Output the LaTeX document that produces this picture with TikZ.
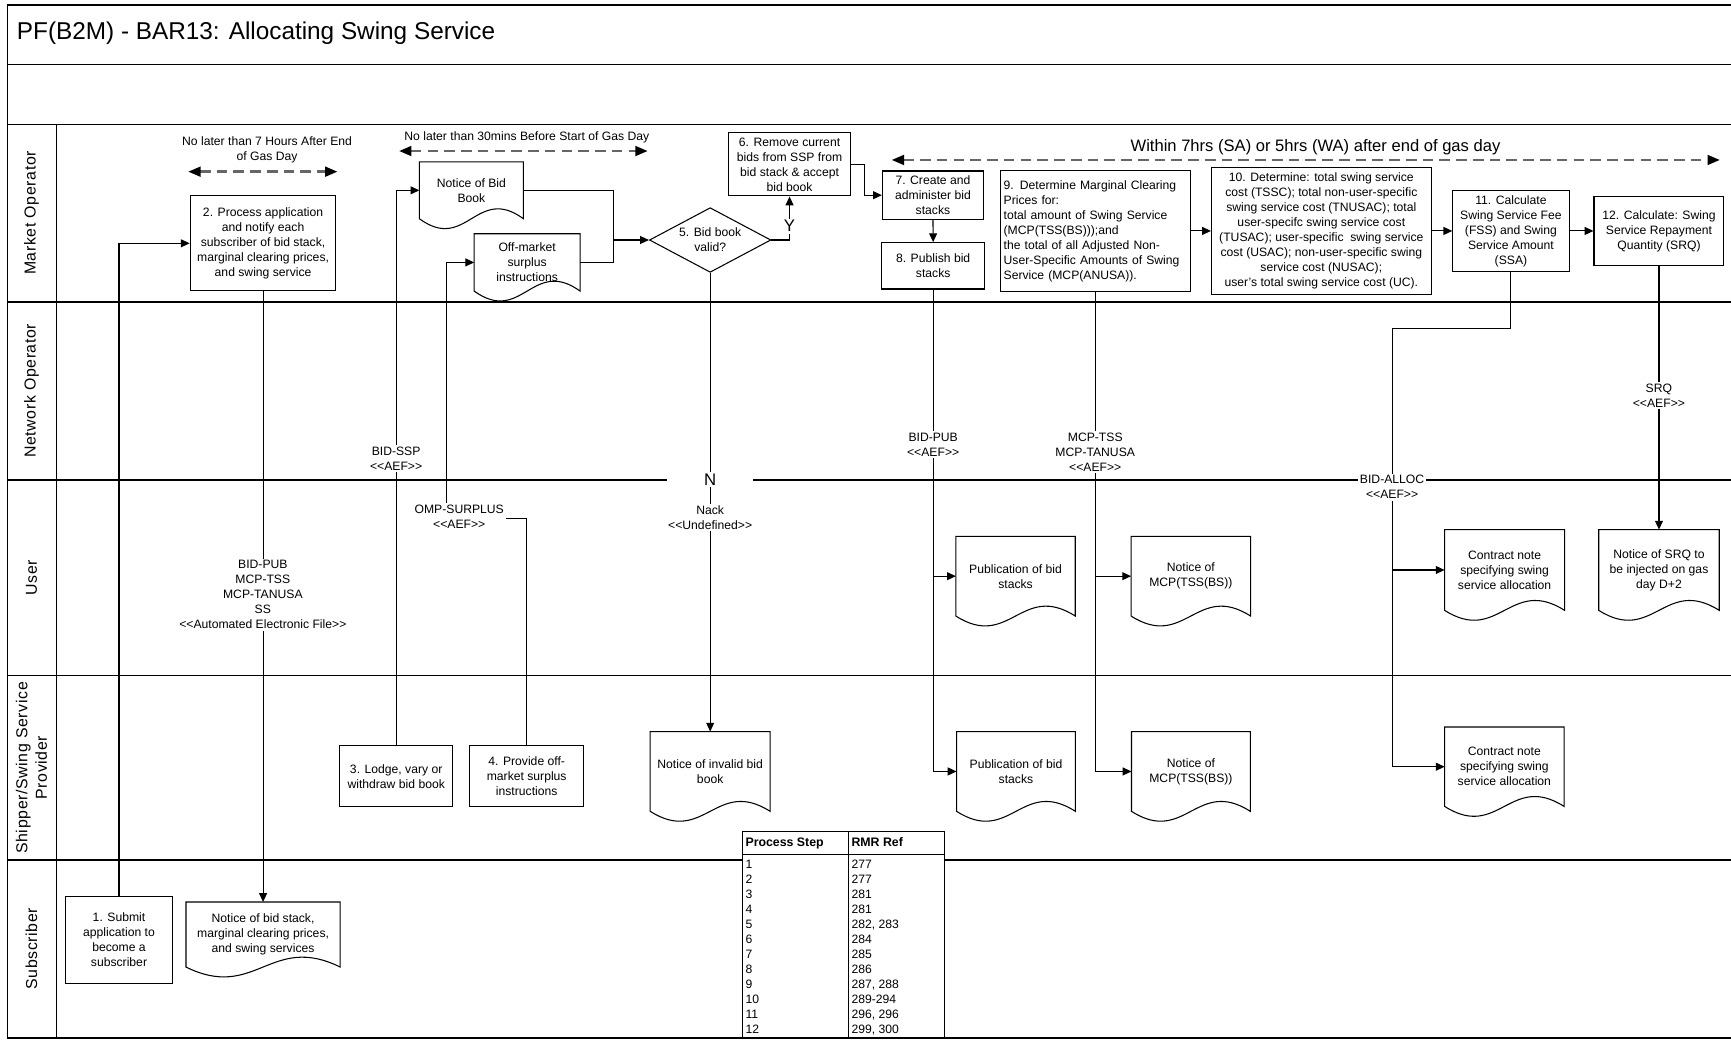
\documentclass[tikz,border=0pt]{standalone}
\usepackage{fontspec}
\setmainfont{Liberation Sans}
\newfontfamily\lanefont{Liberation Sans}[LetterSpace=4]
\usetikzlibrary{arrows.meta,shapes.geometric,calc}

% document shape: wavy bottom edge drawn round a named node
\newcommand{\docoutline}[1]{%
  \draw[docline] (#1.north west) -- (#1.south west)
    .. controls ($(#1.south west)!0.45!(#1.south east)+(0,31)$)
    and ($(#1.south west)!0.55!(#1.south east)+(0,-31)$) .. (#1.south east)
    -- (#1.north east) -- cycle;}

\begin{document}
\begin{tikzpicture}[x=0.022cm, y=-0.022cm,
        font=\fontsize{6.9}{8.5}\selectfont,
        sz/.style 2 args = {minimum width=#1*0.022cm,
            minimum height=#2*0.022cm
        },
        procbox/.style = {draw,
            line width=0.6pt,
            align=center,
            inner sep=1pt
        },
        docu/.style = {align=center,
            inner sep=1pt
        },
        docline/.style = {line width=0.6pt},
        decision/.style = {diamond,
            draw,
            line width=0.6pt,
            align=center,
            inner sep=0pt,
            aspect=1.9
        },
        flow/.style = {line width=0.6pt,
            -{Triangle[length=5pt,width=4.5pt]}
        },
        link/.style = {line width=0.6pt},
        timing/.style = {line width=1.4pt,
            draw=black!60,
            dash pattern=on 6pt off 3.5pt,
            {Triangle[length=7pt,width=5.5pt,color=black]}-{Triangle[length=7pt,width=5.5pt,color=black]}
        },
        msg/.style = {fill=white,
            align=center,
            inner sep=1pt
        },
        lanelbl/.style = {rotate=90,
            align=center,
            font=\lanefont\fontsize{9}{11}\selectfont
        },
        laneline/.style = {line width=0.9pt},
        cell/.style = {anchor=base west,
            inner sep=0pt
        }]

    \useasboundingbox (0,0) rectangle (1568,943);

    % Frame and lanes
    \foreach \ly in {58.3,112.6,273.3,434.8,612,779}
        \draw[laneline] (6.9,\ly) -- (1568,\ly);
    \draw[laneline] (1568,4.5) -- (6.9,4.5) -- (6.9,940) -- (1568,940);
    \draw[laneline] (51,112.6) -- (51,940);

    % Title
    \node[anchor=base west,
        font=\fontsize{13.8}{16}\selectfont] (title) at (9.7,35.6)
        {PF(B2M) - BAR13: Allocating Swing Service};

    % Lane names
    \foreach \lname/\ly [count=\i] in {Market Operator/193, Network Operator/354,
            User/523.4, {Shipper/Swing Service\\Provider}/695.5, Subscriber/859.5}
        \node[lanelbl] (lane\i) at (28.5,\ly) {\lname};

    % Time windows
    \node[align=center] (t7hTxt) at (241.9,135.7) {No later than 7 Hours After End\\of Gas Day};
    \coordinate (t7hL) at (170.5,155.5);
    \coordinate (t7hR) at (305.7,155.5);
    \draw[timing] (t7hL) -- (t7hR);

    \node (t30Txt) at (477.2,124.4) {No later than 30mins Before Start of Gas Day};
    \coordinate (t30L) at (361.5,136.8);
    \coordinate (t30R) at (586.7,136.8);
    \draw[timing] (t30L) -- (t30R);

    \node[font=\fontsize{9.4}{11}\selectfont] (withinTxt) at (1191.6,132.9)
        {Within 7hrs (SA) or 5hrs (WA) after end of gas day};
    \coordinate (withinL) at (807.7,144.9);
    \coordinate (withinR) at (1557.9,144.9);
    \draw[timing] (withinL) -- (withinR);

    % Process steps
    \node[procbox, sz={96.4}{78.5}] (submit) at (107.8,851.5)
        {1. Submit\\application to\\become a\\subscriber};
    \node[procbox, sz={132}{85.8}] (procApp) at (238.3,220.4)
        {2. Process application\\and notify each\\subscriber of bid stack,\\marginal clearing prices,\\and swing service};
    \node[procbox, sz={102.2}{55}] (lodge) at (358.9,703.2)
        {3. Lodge, vary or\\withdraw bid book};
    \node[procbox, sz={103}{55}] (provOff) at (477.1,703.2)
        {4. Provide off-\\market surplus\\instructions};
    \node[decision, sz={110}{58.6}] (valid) at (643.3,217.4) {5. Bid book\\valid?};
    \node[procbox, sz={110}{57.3}] (remove) at (715.2,148.85)
        {6. Remove current\\bids from SSP from\\bid stack \& accept\\bid book};
    \node[procbox, sz={91.6}{43.8}] (create) at (845.1,176.8)
        {7. Create and\\administer bid\\stacks};
    \node[procbox, sz={93.2}{42}] (publish) at (845.3,240.8)
        {8. Publish bid\\stacks};
    \node[procbox, sz={172.2}{110.2}, align=left, text width=3.65cm] (mcp) at (992.1,209.2)
        {9. Determine Marginal Clearing\\Prices for:\\total amount of Swing Service\\(MCP(TSS(BS)));and\\the total of all Adjusted Non-\\User-Specific Amounts of Swing\\Service (MCP(ANUSA)).};
    \node[procbox, sz={199}{114.7}] (determine) at (1196.9,209.2)
        {10. Determine: total swing service\\cost (TSSC); total non-user-specific\\swing service cost (TNUSAC); total\\user-specifc swing service cost\\(TUSAC); user-specific\ \ swing service\\cost (USAC); non-user-specific swing\\service cost (NUSAC);\\user's total swing service cost (UC).};
    \node[procbox, sz={105.3}{72.8}] (calcFee) at (1368.65,209.2)
        {11. Calculate\\Swing Service Fee\\(FSS) and Swing\\Service Amount\\(SSA)};
    \node[procbox, sz={117.7}{63.2}] (calcSrq) at (1502.75,209.2)
        {12. Calculate: Swing\\Service Repayment\\Quantity (SRQ)};

    % Documents
    \node[docu, sz={93.6}{50.8}] (bidBook) at (427,172.4) {Notice of Bid\\Book};
    \node[docu, sz={95.3}{51.3}] (offMkt) at (477.5,237.7) {Off-market\\surplus\\instructions};
    \node[docu, sz={108}{71.6}] (invalid) at (643.3,698.8) {Notice of invalid bid\\book};
    \node[docu, sz={107.5}{71.6}] (pubU) at (919.9,521.9) {Publication of bid\\stacks};
    \node[docu, sz={107.6}{71.6}] (mcpU) at (1078.7,521.9) {Notice of\\MCP(TSS(BS))};
    \node[docu, sz={107}{71.6}] (pubS) at (920.3,698.8) {Publication of bid\\stacks};
    \node[docu, sz={107}{71.6}] (mcpS) at (1078.75,698.8) {Notice of\\MCP(TSS(BS))};
    \node[docu, sz={108}{72.5}] (conU) at (1362.9,516.3)
        {Contract note\\specifying swing\\service allocation};
    \node[docu, sz={107.5}{71.3}] (conS) at (1362.7,694.5)
        {Contract note\\specifying swing\\service allocation};
    \node[docu, sz={108.5}{72.5}] (srqDoc) at (1502.75,516.3)
        {Notice of SRQ to\\be injected on gas\\day D+2};
    \node[docu, sz={139}{58.3}] (subDoc) at (238.3,846.5)
        {Notice of bid stack,\\marginal clearing prices,\\and swing services};
    \foreach \d in {bidBook,offMkt,invalid,pubU,mcpU,pubS,mcpS,conU,conS,srqDoc,subDoc}{
        \docoutline{\d}
    }

    % Connectors
    \coordinate (merge) at (555.3,217.4);
    \coordinate (ompBend) at (404.5,469.5);
    \coordinate (allocBend) at (1261,297.4);

    \draw[flow] (submit.north) |- (procApp.west);
    \draw[flow] (procApp.south) -- (subDoc.north);
    \draw[flow] (lodge.north) |- (bidBook.west);
    \draw[flow] (provOff.north) |- (ompBend) |- (offMkt.west);
    \draw[link] (bidBook.east) -| (merge);
    \draw[link] (offMkt.east) -| (merge);
    \draw[flow] (merge) -- (valid.west);
    \draw[flow] (valid.east) -| node[msg, pos=0.66,
        font=\fontsize{9.5}{11}\selectfont] (yLbl) {Y} (remove.south);
    \draw[flow] (valid.south) -- (invalid.north);
    \draw[flow] (remove.east) -- ++(12.3,0) |- (create.west);
    \draw[flow] (create.south) -- (publish.north);
    \draw[flow] (publish.south) |- (pubU.west);
    \draw[flow] (publish.south) |- (pubS.west);
    \draw[flow] (mcp.east) -- (determine.west);
    \draw[flow] (determine.east) -- (calcFee.west);
    \draw[flow] (calcFee.east) -- (calcSrq.west);
    \draw[flow] (mcp.south) |- (mcpU.west);
    \draw[flow] (mcp.south) |- (mcpS.west);
    \draw[link] (calcFee.south) |- (allocBend);
    \draw[flow] (allocBend) |- (conU.west);
    \draw[flow] (allocBend) |- (conS.west);
    \draw[flow] (calcSrq.south) -- (srqDoc.north);

    % Message labels
    \node[msg] (pubMsg) at (238.1,538.6)
        {BID-PUB\\MCP-TSS\\MCP-TANUSA\\SS\\<{}<Automated Electronic File>{}>};
    \node[msg] (sspMsg) at (358.8,415.3) {BID-SSP\\<{}<AEF>{}>};
    \node[msg] (ompMsg) at (416,468.1) {OMP-SURPLUS\\<{}<AEF>{}>};
    \node[msg, font=\fontsize{9.5}{11}\selectfont,
        minimum width=78*0.022cm] (nLbl) at (643.3,434.2) {N};
    \node[msg] (nackMsg) at (643.3,469) {Nack\\<{}<Undefined>{}>};
    \node[msg] (bidPubMsg) at (845.3,402.6) {BID-PUB\\<{}<AEF>{}>};
    \node[msg] (mcpMsg) at (992.1,409.4) {MCP-TSS\\MCP-TANUSA\\<{}<AEF>{}>};
    \node[msg] (allocMsg) at (1261,441.3) {BID-ALLOC\\<{}<AEF>{}>};
    \node[msg] (srqMsg) at (1502.7,358.5) {SRQ\\<{}<AEF>{}>};

    % Reference table
    \draw[link, fill=white] (672.7,753.3) rectangle (855.4,940);
    \draw[link] (672.7,773.6) -- (855.4,773.6);
    \draw[link] (768.7,753.3) -- (768.7,940);
    \node[cell, font=\bfseries\fontsize{7}{8.5}\selectfont] (hdStep) at (675,766.4) {Process Step};
    \node[cell, font=\bfseries\fontsize{7}{8.5}\selectfont] (hdRef) at (771,766.4) {RMR Ref};
    \foreach \n/\r [count=\i] in {1/277, 2/277, 3/281, 4/281, 5/{282, 283}, 6/284,
            7/285, 8/286, 9/{287, 288}, 10/289-294, 11/{296, 296}, 12/{299, 300}}{
        \node[cell] (step\i) at (675,{786.9+13.59*(\i-1)}) {\n};
        \node[cell] (ref\i) at (771,{786.9+13.59*(\i-1)}) {\r};
    }

\end{tikzpicture}
\end{document}
